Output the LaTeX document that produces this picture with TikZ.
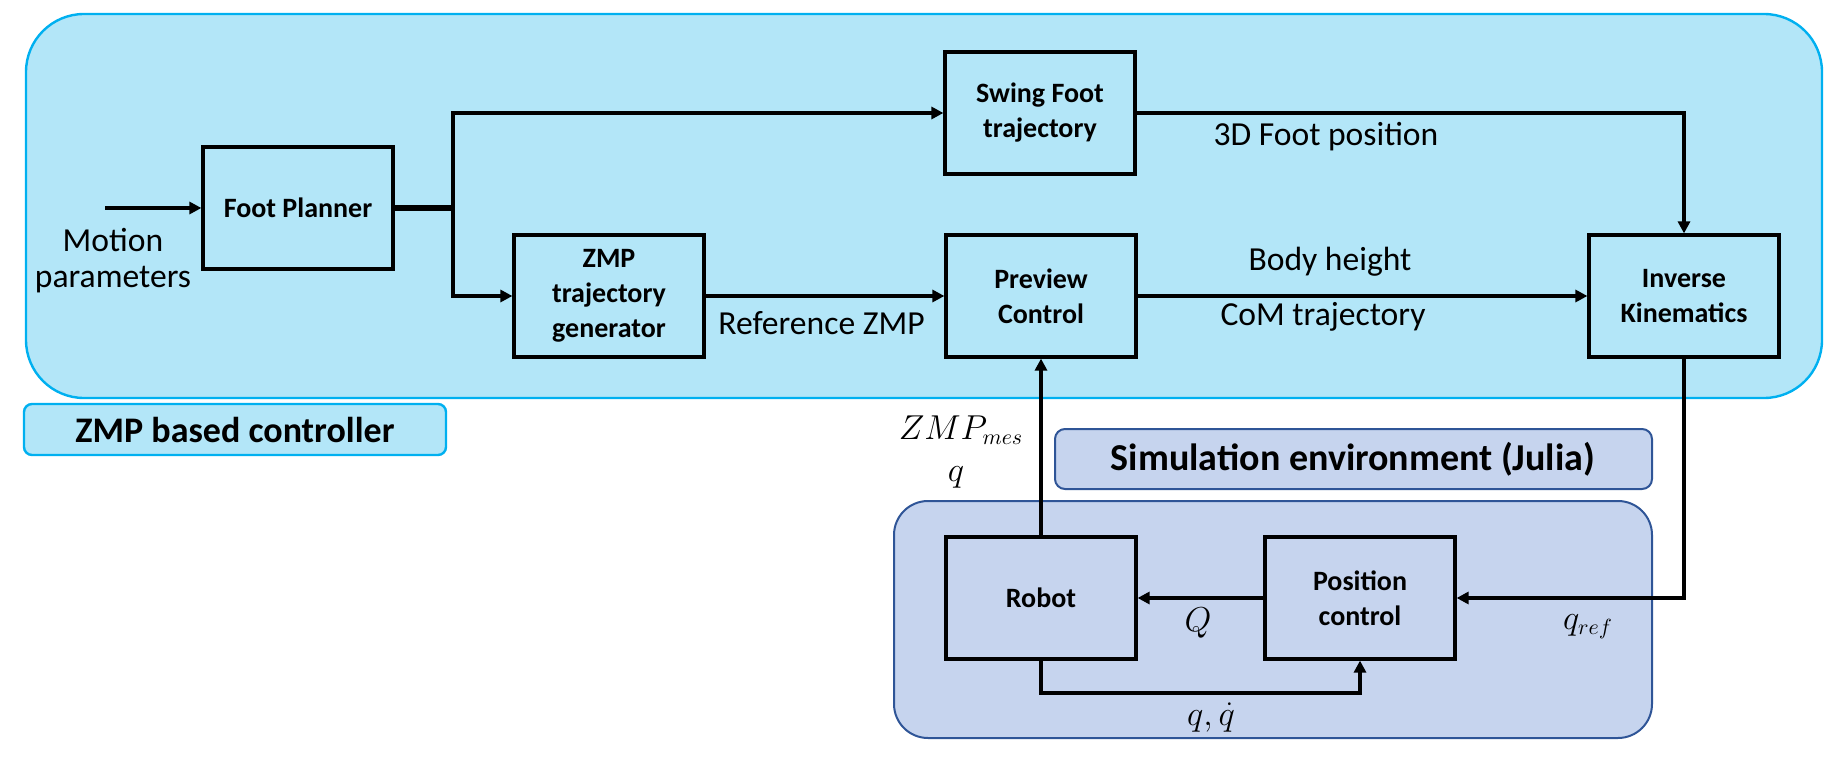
\documentclass[tikz,border=0pt]{standalone}
\usepackage{amsmath, amssymb}
\usepackage{fontspec}
\setmainfont{Carlito}
\usepackage{xcolor}
\usepackage{tikz}
\usetikzlibrary{arrows.meta}

\definecolor{ctrlfill}{HTML}{B3E6F8}
\definecolor{ctrlline}{HTML}{00B0F0}
\definecolor{simfill}{HTML}{C6D4EE}
\definecolor{simline}{HTML}{2F5597}

\begin{document}
\begin{tikzpicture}[x=0.5pt, y=-0.5pt,
    block/.style={draw, line width=1.6pt, minimum width=95pt, minimum height=61pt, inner sep=0pt, align=center, font=\fontsize{14}{17.5}\selectfont\bfseries},
    lbl/.style={inner sep=0pt, font=\fontsize{16.8}{20}\selectfont},
    mlbl/.style={inner sep=0pt, font=\fontsize{16}{19}\selectfont},
    arr/.style={line width=2.2pt, -{Triangle[length=6pt, width=6pt]}},
    wire/.style={line width=2.8pt}]
    \useasboundingbox (0,0) rectangle (1825,759);

    % regions
    \draw[fill=ctrlfill, draw=ctrlline, line width=1.2pt, rounded corners=29pt] (26,14) rectangle (1822,398);
    \draw[fill=ctrlfill, draw=ctrlline, line width=1.2pt, rounded corners=4pt] (24,404) rectangle (446,455);
    \node[inner sep=0pt, font=\fontsize{18}{22}\selectfont\bfseries] (ctrl) at (235,430) {ZMP based controller};
    \draw[fill=simfill, draw=simline, line width=1pt, rounded corners=5pt] (1055,429) rectangle (1652,489);
    \node[inner sep=0pt, font=\fontsize{19}{22}\selectfont\bfseries] (sim) at (1353,459) {Simulation environment (Julia)};
    \draw[fill=simfill, draw=simline, line width=1pt, rounded corners=17pt] (894,501) rectangle (1652,738);

    % blocks
    \node[block] (FP) at (298,208) {Foot Planner};
    \node[block] (SF) at (1040,113) {Swing Foot\\trajectory};
    \node[block] (ZG) at (609,296) {ZMP\\trajectory\\generator};
    \node[block] (PC) at (1041,296) {Preview\\Control};
    \node[block] (IK) at (1684,296) {Inverse\\Kinematics};
    \node[block] (Rob) at (1041,598) {Robot};
    \node[block] (PosC) at (1360,598) {Position\\control};

    \coordinate (in) at (105,208);
    \coordinate (br) at (453,208);
    \coordinate (fb) at (1041,693);

    % connectors
    \draw[arr] (in) -- (FP);
    \draw[wire] (FP) -- (br);
    \draw[arr] (br) |- (SF);
    \draw[arr] (br) |- (ZG);
    \draw[arr] (ZG) -- (PC);
    \draw[arr] (SF) -| (IK);
    \draw[arr] (PC) -- (IK);
    \draw[arr] (IK) |- (PosC);
    \draw[arr] (PosC) -- (Rob);
    \draw[arr] (Rob) -- (fb) -| (PosC);
    \draw[arr] (Rob) -- (PC);

    % labels
    \node[lbl] (mot) at (113,240) {Motion};
    \node[lbl] (par) at (113,280) {parameters};
    \node[lbl, anchor=west] (refz) at (718,323) {Reference ZMP};
    \node[lbl] (foot) at (1326,137) {3D Foot position};
    \node[lbl] (body) at (1330,262) {Body height};
    \node[lbl] (com) at (1323,317) {CoM trajectory};
    \node[mlbl] (zmes) at (961,430) {$ZMP_{mes}$};
    \node[mlbl] (qm) at (956,477) {$q$};
    \node[mlbl] (Qt) at (1198,623) {$Q$};
    \node[mlbl] (qref) at (1588,627) {$q_{ref}$};
    \node[mlbl] (qd) at (1211,718) {$q,\dot{q}$};
\end{tikzpicture}
\end{document}
